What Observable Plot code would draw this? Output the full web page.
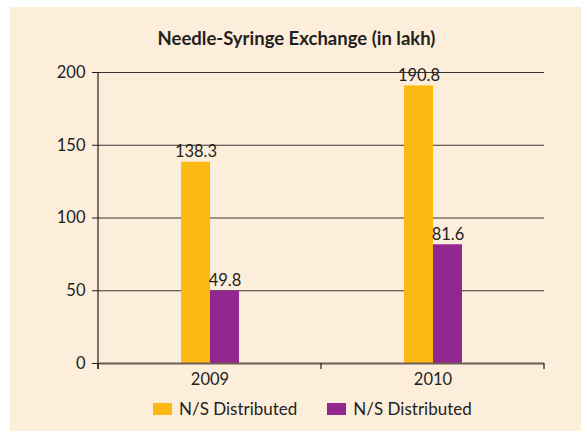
<!DOCTYPE html>
<html>
<head>
<meta charset="utf-8">
<script src="https://cdn.jsdelivr.net/npm/d3@7"></script>
<script src="https://cdn.jsdelivr.net/npm/@observablehq/plot@0.6"></script>
<style>
  html, body { margin: 0; padding: 0; background: #ffffff; }
  #panel {
    position: absolute; left: 10px; top: 7px; width: 571px; height: 424px;
    background: #fdeedb; font-family: Lato, "Open Sans", sans-serif; color: #231f20;
  }
  #title {
    position: absolute; left: 1px; top: 19px; width: 571px; text-align: center;
    font-weight: bold; font-size: 18.5px; line-height: 24px; color: #231f20;
  }
  #chart { position: absolute; left: 0; top: 50px; }
  #legend {
    position: absolute; left: 143px; top: 392px; display: flex; align-items: center;
    font-size: 17px; line-height: 20px; color: #231f20;
  }
  .item { display: flex; align-items: center; margin-right: 30px; }
  .sw { width: 19px; height: 12px; margin-right: 7px; }
</style>
</head>
<body>
<div id="panel">
  <div id="title">Needle-Syringe Exchange (in lakh)</div>
  <div id="chart"></div>
  <div id="legend"></div>
</div>
<script>
const years = ["2009", "2010"];
const seriesKeys = ["s1", "s2"];
const seriesLabels = ["N/S Distributed", "N/S Distributed"];
const seriesColors = ["#fdb913", "#92278f"];
const valuesS1 = [138.3, 190.8];
const valuesS2 = [49.8, 81.6];
const yTicks = [0, 50, 100, 150, 200];
const gridValues = [50, 100, 150, 200];

const data = [];
years.forEach((yr, i) => {
  data.push({year: yr, series: seriesKeys[0], value: valuesS1[i]});
  data.push({year: yr, series: seriesKeys[1], value: valuesS2[i]});
});

const ink = "#231f20";
const font = "Lato, 'Open Sans', sans-serif";

const chart = Plot.plot({
  width: 571,
  height: 334,
  marginLeft: 88,
  marginRight: 37,
  marginTop: 15,
  marginBottom: 28,
  style: {background: "transparent", fontFamily: font, fontSize: "16.5px", color: ink},
  fx: {domain: years, padding: 0, label: null, tickSize: 0, tickPadding: 10, axis: "bottom"},
  x: {domain: seriesKeys, paddingInner: 0, paddingOuter: 2.81, axis: null},
  y: {domain: [0, 200], ticks: yTicks, label: null},
  color: {domain: seriesKeys, range: seriesColors},
  marks: [
    Plot.ruleY(gridValues, {stroke: ink, strokeWidth: 1, strokeOpacity: 0.9}),
    Plot.barY(data, {fx: "year", x: "series", y: "value", fill: "series"}),
    Plot.ruleY([0], {stroke: "#6b5e55", strokeWidth: 2}),
    Plot.text(data, {fx: "year", x: "series", y: "value", text: d => d.value.toFixed(1),
      dy: -5, lineAnchor: "bottom", fontSize: 16.5, fill: ink}),
    Plot.axisY({ticks: yTicks, tickSize: 6, tickPadding: 7, label: null, fontSize: 16.5})
  ]
});

// y-axis line and category boundary ticks, placed with Plot's own scales
const fx = chart.scale("fx");
const y = chart.scale("y");
const svg = d3.select(chart);
const y0 = y.apply(0);
const edges = years.map(d => fx.apply(d));
edges.push(fx.apply(years[years.length - 1]) + fx.bandwidth);
const g = svg.append("g").attr("stroke", ink).attr("stroke-width", 1.2);
edges.forEach(x => {
  g.append("line").attr("x1", x).attr("x2", x).attr("y1", y0).attr("y2", y0 + 6);
});
g.append("line").attr("x1", edges[0]).attr("x2", edges[0])
  .attr("y1", y.apply(200)).attr("y2", y0 + 6);

document.getElementById("chart").appendChild(chart);

const legend = document.getElementById("legend");
seriesKeys.forEach((k, i) => {
  const it = document.createElement("div");
  it.className = "item";
  const sw = document.createElement("div");
  sw.className = "sw";
  sw.style.background = seriesColors[i];
  const t = document.createElement("span");
  t.textContent = seriesLabels[i];
  it.appendChild(sw); it.appendChild(t);
  legend.appendChild(it);
});
</script>
</body>
</html>
